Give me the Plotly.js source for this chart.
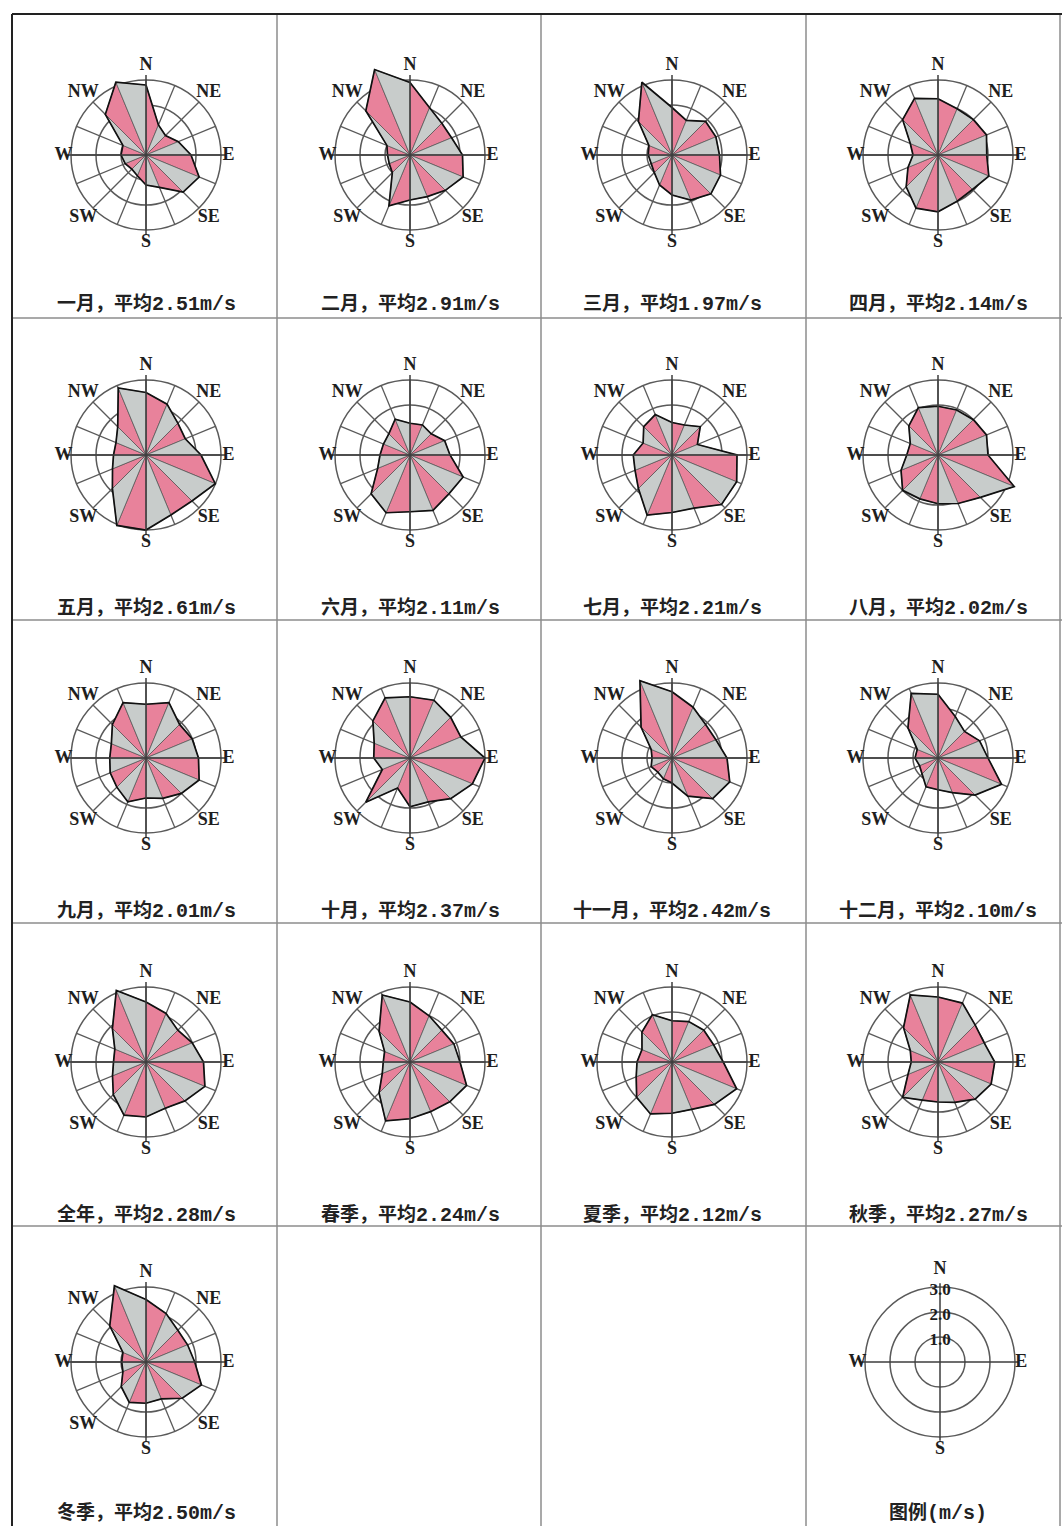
<!DOCTYPE html>
<html><head><meta charset="utf-8">
<script src="https://cdn.plot.ly/plotly-3.0.1.min.js"></script>
<style>html,body{margin:0;padding:0;background:#fff}#chart{width:1062px;height:1526px}</style>
</head><body><div id="chart"></div>
<script>
// ---------- data ----------
const directions = ['N','NNE','NE','ENE','E','ESE','SE','SSE','S','SSW','SW','WSW','W','WNW','NW','NNW'];
const compassLabels = ['N','NE','E','SE','S','SW','W','NW'];
const panelNames = ['一月','二月','三月','四月','五月','六月','七月','八月','九月','十月','十一月','十二月','全年','春季','夏季','秋季','冬季'];
const panelMeans = [2.51, 2.91, 1.97, 2.14, 2.61, 2.11, 2.21, 2.02, 2.01, 2.37, 2.42, 2.10, 2.28, 2.24, 2.12, 2.27, 2.50];

const jan = [2.8, 1.3, 1.1, 1.4, 1.8, 2.3, 2.1, 1.4, 1.2, 0.9, 0.8, 0.9, 1.0, 1.0, 2.3, 3.15];
const feb = [2.9, 2.05, 1.8, 1.8, 2.1, 2.3, 2.0, 1.8, 1.8, 2.2, 1.0, 0.9, 0.9, 1.0, 2.5, 3.7];
const mar = [1.9, 1.5, 1.9, 1.9, 1.9, 2.1, 2.2, 1.95, 1.6, 1.3, 1.0, 0.9, 0.95, 1.0, 1.9, 3.15];
const apr = [2.25, 2.0, 2.0, 2.1, 1.95, 2.2, 1.95, 2.0, 2.27, 2.3, 1.8, 1.3, 1.0, 1.2, 2.0, 2.45];
const may = [2.5, 2.2, 1.8, 1.7, 2.2, 3.0, 2.6, 2.6, 3.0, 3.05, 1.9, 1.45, 1.3, 1.3, 1.6, 2.9];
const jun = [1.27, 1.3, 1.2, 1.5, 1.6, 2.3, 2.2, 2.4, 2.27, 2.5, 2.2, 1.4, 1.2, 1.15, 1.2, 1.55];
const jul = [1.3, 1.3, 1.6, 1.1, 2.6, 2.8, 2.8, 2.3, 2.3, 2.6, 1.9, 1.6, 1.55, 1.25, 1.6, 1.75];
const aug = [1.95, 1.95, 2.0, 2.1, 2.0, 3.3, 2.4, 2.1, 1.95, 1.9, 2.0, 1.6, 1.25, 1.2, 1.65, 2.05];
const sep = [2.15, 2.4, 1.9, 2.0, 2.1, 2.3, 2.0, 1.75, 1.6, 1.9, 1.65, 1.55, 1.45, 1.5, 1.9, 2.4];
const oct = [2.45, 2.5, 2.3, 2.2, 3.0, 2.7, 2.3, 1.9, 1.95, 1.3, 2.5, 1.2, 1.45, 1.55, 2.1, 2.6];
const nov = [2.65, 2.2, 1.9, 1.9, 2.2, 2.5, 2.3, 1.65, 1.0, 0.9, 0.8, 0.9, 0.8, 0.9, 1.75, 3.35];
const dec = [2.55, 1.8, 1.5, 1.8, 2.0, 2.75, 2.1, 1.5, 1.27, 1.25, 0.9, 0.8, 0.92, 0.9, 1.7, 2.8];
const annual = [2.4, 2.1, 1.8, 2.0, 2.3, 2.55, 2.2, 2.0, 2.2, 2.3, 1.85, 1.45, 1.3, 1.35, 1.9, 3.1];
const spring = [2.4, 2.0, 1.8, 1.9, 2.0, 2.45, 2.25, 2.15, 2.27, 2.55, 1.75, 1.2, 1.07, 1.1, 1.75, 2.9];
const summer = [1.65, 1.75, 1.8, 1.8, 2.05, 2.8, 2.4, 2.05, 2.05, 2.25, 2.0, 1.55, 1.4, 1.3, 1.7, 2.05];
const autumn = [2.6, 2.55, 2.1, 2.0, 2.27, 2.3, 2.1, 1.75, 1.6, 1.65, 2.0, 1.3, 1.07, 1.2, 1.95, 2.9];
const winter = [2.5, 2.1, 1.8, 1.8, 1.95, 2.4, 2.05, 1.6, 1.65, 1.75, 1.4, 1.0, 0.97, 1.0, 2.05, 3.3];
const panelValues = [jan, feb, mar, apr, may, jun, jul, aug, sep, oct, nov, dec, annual, spring, summer, autumn, winter];

const legendRings = [1, 2, 3];
const legendRingLabels = ['1.0', '2.0', '3.0'];
const legendDirs = ['N', 'E', 'S', 'W'];
const legendTitle = ['图例', '(m/s)'];

// ---------- geometry / style ----------
const W = 1062, H = 1526;
const RMAX = 3.8, R = 75 * RMAX / 3;   // domain radius so that r=3 is 75 px
const colCenters = [146, 410, 672, 938];
const rowCenters = [155, 455, 758, 1062, 1362];
const titleYs = [302, 606, 909, 1213, 1511];
const compassR = [3.6, 3.55, 3.3, 3.55, 3.5, 3.55, 3.3, 3.55];
const legendDirR = [3.72, 3.25, 3.5, 3.3];
const PINK = '#e8829b', GRAY = '#c8cccb';
const GRID = '#5a5a5a';
const serifBold = {family: 'Liberation Serif, Times New Roman, serif', size: 18, color: '#1e1e1e', weight: 'bold'};

const traces = [];
const layout = {
  width: W, height: H, margin: {l: 0, r: 0, t: 0, b: 0},
  paper_bgcolor: '#fff', plot_bgcolor: '#fff', showlegend: false,
  annotations: [], shapes: []
};

function polarLayout(cx, cy, cats) {
  return {
    domain: {x: [(cx - R) / W, (cx + R) / W], y: [1 - (cy + R) / H, 1 - (cy - R) / H]},
    bgcolor: 'rgba(0,0,0,0)',
    radialaxis: {range: [0, RMAX], tickvals: [1, 2, 3], showticklabels: false, ticks: '', showline: false,
                 gridcolor: GRID, gridwidth: 1.5},
    angularaxis: {type: 'category', categoryarray: cats, direction: 'clockwise', rotation: 90,
                  showticklabels: false, ticks: '', showgrid: false, showline: false}
  };
}

function spokes(sp, cats) {
  const r = [], th = [];
  cats.forEach(d => { r.push(0, 3, null); th.push(d, d, null); });
  traces.push({type: 'scatterpolar', subplot: sp, mode: 'lines', r: r, theta: th, connectgaps: false,
    line: {color: GRID, width: 1.3}, hoverinfo: 'skip'});
}

function crossLines(sp, len) {
  [['N', 'S'], ['E', 'W']].forEach(pair => {
    traces.push({type: 'scatterpolar', subplot: sp, mode: 'lines', r: [len, len], theta: pair,
      line: {color: '#3c3c3c', width: 1.5}, cliponaxis: false, hoverinfo: 'skip'});
  });
}

function titleText(name, tail) {
  return '<span style="font-family:Noto Sans CJK SC">' + name + '</span>' +
         '<span style="font-family:Liberation Mono;font-size:20px">' + tail + '</span>';
}

panelValues.forEach((vals, i) => {
  const row = Math.floor(i / 4), col = i % 4;
  const sp = i === 0 ? 'polar' : 'polar' + (i + 1);
  layout[sp] = polarLayout(colCenters[col], rowCenters[row], directions);
  spokes(sp, directions);
  const n = directions.length;
  for (let k = 0; k < n; k++) {
    const k2 = (k + 1) % n;
    traces.push({type: 'scatterpolar', subplot: sp, mode: 'lines', fill: 'toself',
      fillcolor: k % 2 === 0 ? PINK : GRAY,
      r: [0, vals[k], vals[k2], 0], theta: [directions[k], directions[k], directions[k2], directions[k]],
      line: {color: '#555', width: 0.7}, hoverinfo: 'skip'});
  }
  traces.push({type: 'scatterpolar', subplot: sp, mode: 'lines',
    r: vals.concat([vals[0]]), theta: directions.concat([directions[0]]),
    line: {color: '#111', width: 1.7}, hoverinfo: 'skip'});
  crossLines(sp, 3.2);
  traces.push({type: 'scatterpolar', subplot: sp, mode: 'text', r: compassR,
    theta: compassLabels, text: compassLabels, textfont: serifBold, cliponaxis: false, hoverinfo: 'skip'});
  layout.annotations.push({xref: 'paper', yref: 'paper', x: colCenters[col] / W, y: 1 - titleYs[row] / H,
    xanchor: 'center', yanchor: 'middle', showarrow: false,
    text: titleText(panelNames[i] + '，平均', panelMeans[i].toFixed(2) + 'm/s'),
    font: {family: 'Noto Sans CJK SC, sans-serif', size: 19, color: '#222', weight: 'bold'}});
});

// legend panel
const lsp = 'polar' + (panelValues.length + 1);
layout[lsp] = polarLayout(940, 1362, legendDirs);
crossLines(lsp, 3.15);
traces.push({type: 'scatterpolar', subplot: lsp, mode: 'text', r: legendDirR,
  theta: legendDirs, text: legendDirs, textfont: serifBold, cliponaxis: false, hoverinfo: 'skip'});
traces.push({type: 'scatterpolar', subplot: lsp, mode: 'text', r: legendRings.map(v => v - 0.15),
  theta: legendRings.map(() => 'N'), text: legendRingLabels,
  textfont: {family: 'Liberation Serif, serif', size: 17, color: '#1e1e1e', weight: 'bold'},
  textposition: 'middle center', cliponaxis: false, hoverinfo: 'skip'});
layout.annotations.push({xref: 'paper', yref: 'paper', x: 938 / W, y: 1 - titleYs[4] / H,
  xanchor: 'center', yanchor: 'middle', showarrow: false,
  text: titleText(legendTitle[0], legendTitle[1]),
  font: {family: 'Noto Sans CJK SC, sans-serif', size: 19, color: '#222', weight: 'bold'}});

// cell borders
[277, 541, 806, 1060].forEach(x => layout.shapes.push({type: 'line', xref: 'paper', yref: 'paper',
  x0: x / W, x1: x / W, y0: 0, y1: 1 - 14 / H, line: {color: '#8c8c8c', width: 1.5}}));
[318, 620, 923, 1226].forEach(y => layout.shapes.push({type: 'line', xref: 'paper', yref: 'paper',
  x0: 12 / W, x1: 1, y0: 1 - y / H, y1: 1 - y / H, line: {color: '#8c8c8c', width: 1.5}}));
layout.shapes.push({type: 'line', xref: 'paper', yref: 'paper', x0: 12 / W, x1: 12 / W, y0: 0, y1: 1 - 14 / H,
  line: {color: '#222', width: 2}});
layout.shapes.push({type: 'line', xref: 'paper', yref: 'paper', x0: 12 / W, x1: 1, y0: 1 - 14 / H, y1: 1 - 14 / H,
  line: {color: '#222', width: 2}});

Plotly.newPlot('chart', traces, layout, {staticPlot: true, displayModeBar: false});
</script></body></html>
